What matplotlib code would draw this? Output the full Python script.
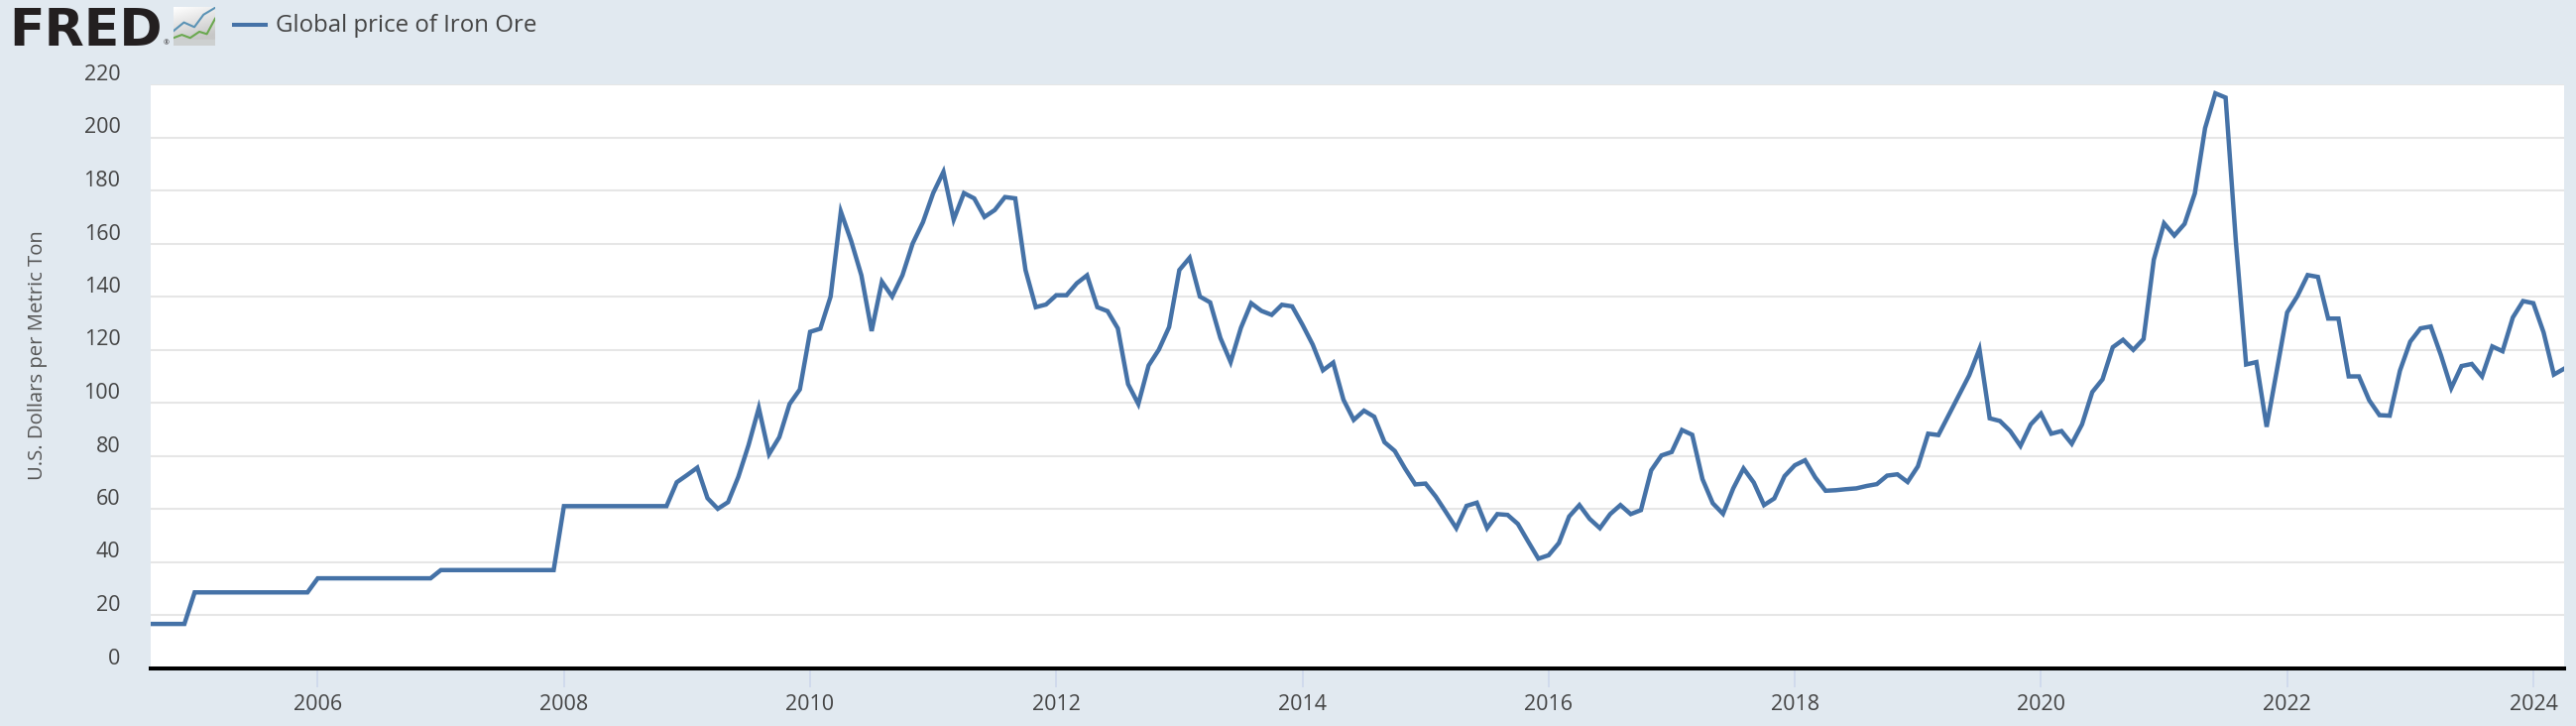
import matplotlib
matplotlib.use("Agg")
import matplotlib.pyplot as plt
import numpy as np
from matplotlib.patches import Rectangle
from matplotlib.transforms import ScaledTranslation

W, H = 2598, 732
BG = "#e1e9f0"
LINE = "#4572a7"
TXT = "#444444"

v2004 = [16.6, 16.6, 16.6, 16.6, 16.6]
v2005 = [28.5] * 12
v2006 = [33.8] * 12
v2007 = [36.9] * 12
v2008 = [61.0, 61.0, 61.0, 61.0, 61.0, 61.0, 61.0, 61.0, 61.0, 61.0, 61.0, 70.0]
v2009 = [72.7, 75.5, 64.0, 60.0, 62.5, 72.0, 84.0, 98.0, 80.6, 87.0, 99.5, 105.0]
v2010 = [126.7, 127.9, 140.0, 172.0, 161.0, 148.0, 127.0, 145.6, 140.0, 148.0, 160.0, 168.0]
v2011 = [179.0, 187.0, 169.0, 179.0, 177.0, 170.0, 172.6, 177.5, 177.0, 150.0, 136.0, 137.0]
v2012 = [140.5, 140.5, 145.0, 148.0, 136.0, 134.5, 128.0, 107.0, 99.5, 114.0, 120.0, 128.5]
v2013 = [150.0, 154.6, 140.0, 137.8, 124.4, 115.3, 128.2, 137.5, 134.6, 133.1, 136.9, 136.3]
v2014 = [129.4, 121.9, 112.2, 115.1, 101.1, 93.5, 97.0, 94.7, 85.1, 81.8, 75.2, 69.2]
v2015 = [69.5, 64.6, 58.7, 52.7, 61.1, 62.3, 52.7, 58.0, 57.7, 54.3, 47.7, 41.2]
v2016 = [42.5, 47.1, 57.1, 61.4, 56.2, 52.7, 58.0, 61.4, 58.0, 59.5, 74.5, 80.1]
v2017 = [81.4, 89.7, 87.9, 71.2, 62.1, 58.1, 67.7, 75.2, 69.9, 61.4, 63.9, 72.3]
v2018 = [76.4, 78.3, 71.8, 66.8, 67.0, 67.4, 67.7, 68.6, 69.3, 72.5, 73.0, 70.1]
v2019 = [76.0, 88.3, 87.8, 95.3, 102.8, 110.3, 120.2, 94.1, 93.1, 89.3, 83.7, 91.8]
v2020 = [95.9, 88.3, 89.3, 84.5, 91.8, 104.0, 108.8, 120.9, 123.7, 119.9, 124.0, 153.9]
v2021 = [167.6, 163.0, 167.4, 178.9, 203.5, 216.6, 215.0, 160.8, 114.4, 115.3, 90.9, 112.3]
v2022 = [134.0, 140.2, 148.1, 147.4, 131.7, 131.7, 109.9, 109.9, 100.9, 95.3, 95.1, 112.1]
v2023 = [123.0, 128.0, 128.7, 117.8, 105.5, 113.8, 114.6, 109.9, 121.2, 119.4, 132.1, 138.3]
v2024 = [137.5, 126.5, 110.6, 112.8]

values = (v2004 + v2005 + v2006 + v2007 + v2008 + v2009 + v2010 + v2011 + v2012 + v2013
          + v2014 + v2015 + v2016 + v2017 + v2018 + v2019 + v2020 + v2021 + v2022 + v2023 + v2024)
first_year, first_month = 2004, 8
dates = [first_year + (first_month - 1 + i) / 12 for i in range(len(values))]

y_ticks = list(range(0, 221, 20))
x_ticks = list(range(2006, 2025, 2))
series_name = "Global price of Iron Ore"
y_title = "U.S. Dollars per Metric Ton"

plt.rcParams["font.family"] = ["Open Sans", "DejaVu Sans"]

fig = plt.figure(figsize=(W / 100, H / 100), dpi=100, facecolor=BG)
L, R, T, B = 152, 2586, 85, 673.5
ax = fig.add_axes([L / W, 1 - B / H, (R - L) / W, (B - T) / H], facecolor="white")
ax.set_xlim(2004.643, 2024.25)
ax.set_ylim(0, 220)

ax.plot(dates, values, color=LINE, lw=3.2, solid_joinstyle="miter", zorder=3)

ax.set_yticks(y_ticks)
ax.set_xticks(x_ticks)
ax.grid(axis="y", color="#e6e6e6", lw=1.45, zorder=0)
ax.set_axisbelow(True)
for s in ("top", "left", "right"):
    ax.spines[s].set_visible(False)
ax.spines["bottom"].set_color("black")
ax.spines["bottom"].set_linewidth(2.9)
ax.spines["bottom"].set_zorder(4)

ax.tick_params(axis="y", length=0, pad=22, labelsize=15.5, labelcolor=TXT)
ax.tick_params(axis="x", length=14, width=1.1, color="#ccd6eb", pad=5, labelsize=15.5, labelcolor=TXT)
shift = ScaledTranslation(0, 12 / 100, fig.dpi_scale_trans)
for lab in ax.get_yticklabels():
    lab.set_transform(lab.get_transform() + shift)

fig.text(38 / W, 1 - 358 / H, y_title, rotation=90, va="center", ha="center",
         fontsize=14.6, color="#555555")

# legend
fig.add_artist(plt.Line2D([236 / W, 268 / W], [1 - 25 / H] * 2, color=LINE, lw=2.9))
fig.text(278 / W, 1 - 26 / H, series_name, va="center", ha="left", fontsize=17.3, color=TXT)

# FRED logo
fig.text(9 / W, 1 - 46.5 / H, "FRED", family="DejaVu Sans", weight="bold", fontsize=37.5,
         color="#231f20", va="baseline", ha="left")
fig.text(168 / W, 1 - 43.5 / H, "®", fontsize=5, color="#231f20", va="center", ha="center")
icon = fig.add_axes([175 / W, 1 - 46 / H, 42 / W, 39 / H])
icon.axis("off")
grad = np.linspace(0, 1, 64)[:, None] * np.ones((64, 64))
grad = 1 - 0.22 * np.clip((grad + np.linspace(0, 1, 64)[None, :] * 0.3), 0, 1)
icon.imshow(grad, cmap="gray", vmin=0, vmax=1, extent=(0, 1, 0, 1), aspect="auto")
icon.add_patch(Rectangle((0, 0), 1, 0.16, color="#cdd0d0"))
icon.plot([0, .25, .5, .72, 1], [.38, .6, .48, .8, .98], color="#5b93b5", lw=1.5)
icon.plot([0, .2, .4, .62, .8, 1], [.2, .28, .2, .36, .3, .7], color="#6aa84f", lw=1.5)
icon.set_xlim(0, 1)
icon.set_ylim(0, 1)

fig.savefig("out.png", dpi=100, facecolor=BG)
